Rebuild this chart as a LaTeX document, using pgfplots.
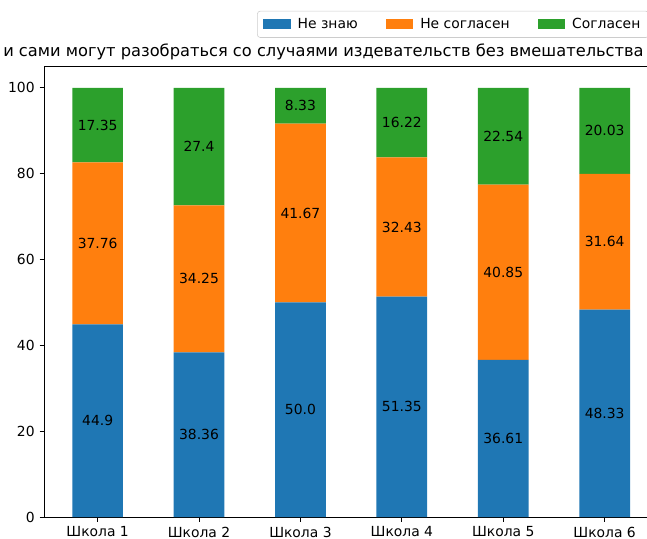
\documentclass[border=0pt]{standalone}
\usepackage{fontspec}
\setmainfont{DejaVu Sans}
\usepackage{pgfplots}
\usepackage{pgfplotstable}
\pgfplotsset{compat=1.18}
\definecolor{tabblue}{HTML}{1F77B4}
\definecolor{taborange}{HTML}{FF7F0E}
\definecolor{tabgreen}{HTML}{2CA02C}

\pgfplotstableread{
x a b c
0 44.9 37.76 17.35
1 38.36 34.25 27.4
2 50.0 41.67 8.33
3 51.35 32.43 16.22
4 36.61 40.85 22.54
5 48.33 31.64 20.03
}\data

\pgfplotstableread{
x y lab
0 22.45 44.9
1 19.18 38.36
2 25.0 50.0
3 25.675 51.35
4 18.305 36.61
5 24.165 48.33
0 63.78 37.76
1 55.485 34.25
2 70.835 41.67
3 67.565 32.43
4 57.035 40.85
5 64.15 31.64
0 91.335 17.35
1 86.31 27.4
2 95.835 8.33
3 91.89 16.22
4 88.73 22.54
5 89.985 20.03
}\labels

\pgfplotsset{
  common/.style={
    at={(31.97pt,15.84pt)}, anchor=south west,
    scale only axis,
    width=441.7pt, height=324.4pt,
    xmin=-0.525, xmax=5.525,
    ymin=0, ymax=105,
  }
}

\begin{document}
\begin{tikzpicture}
\useasboundingbox (0pt,0pt) rectangle (465.84pt,388.08pt);
\clip (0pt,0pt) rectangle (465.84pt,388.08pt);
\begin{axis}[
  common,
  ybar stacked,
  bar width=0.5,
  xtick={0,1,2,3,4,5},
  xticklabels={Школа 1,Школа 2,Школа 3,Школа 4,Школа 5,Школа 6},
  ytick={0,20,40,60,80,100},
  tick pos=left,
  tick align=outside,
  major tick length=3.5pt,
  every tick/.style={black, line width=0.6pt},
  axis line style={line width=0.6pt},
  tick label style={font=\fontsize{10}{12}\selectfont},
  /pgf/number format/assume math mode=true,
  legend columns=3,
  legend style={
    at={(0.9855,1.1232)}, anchor=north east,
    draw=gray!40, rounded corners=2pt, fill=white,
    font=\fontsize{10}{12}\selectfont,
    /tikz/every even column/.append style={column sep=18pt},
    /tikz/every odd column/.append style={column sep=3pt},
    inner xsep=4pt, inner ysep=3pt,
  },
  legend image code/.code={\fill[#1, sharp corners] (0pt,-3.5pt) rectangle (20pt,3.5pt);},
]
\addplot[fill=tabblue, draw=none] table[x=x,y=a] {\data};
\addlegendentry{Не знаю}
\addplot[fill=taborange, draw=none] table[x=x,y=b] {\data};
\addlegendentry{Не согласен}
\addplot[fill=tabgreen, draw=none] table[x=x,y=c] {\data};
\addlegendentry{Согласен}
\end{axis}
\begin{axis}[
  common,
  hide axis,
]
\addplot[only marks, mark=none,
  nodes near coords,
  point meta=explicit symbolic,
  every node near coord/.append style={anchor=center, black, font=\fontsize{10}{12}\selectfont},
] table[x=x,y=y,meta=lab] {\labels};
\end{axis}
\node[anchor=base west, inner sep=0pt, font=\fontsize{11.7}{14}\selectfont] at (2.16pt,347.5pt) {и сами могут разобраться со случаями издевательств без вмешательства};
\end{tikzpicture}
\end{document}
